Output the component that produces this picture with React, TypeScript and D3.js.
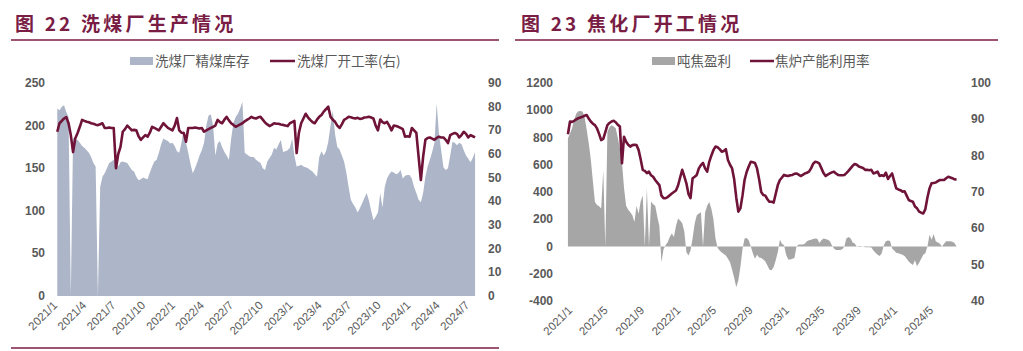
import React from "react";
import * as d3 from "d3";

// ---------- Data: 图22 洗煤厂生产情况 (weekly, from 2021-01-08) ----------
const washStockStart = "2021-01-08";
const washStock = [
  220, 218, 222, 224, 216, 210, 0, 186, 183, 183, 180, 176, 174, 171, 168, 163, 156, 152, 0, 128,
  140, 144, 150, 156, 158, 160, 156, 152, 157, 158, 157, 156, 152, 148, 146, 140, 136, 137, 139, 138,
  137, 145, 152, 158, 160, 168, 178, 185, 183, 182, 179, 180, 176, 170, 168, 180, 195, 180, 168, 155,
  144, 150, 157, 165, 171, 180, 200, 212, 213, 200, 165, 179, 182, 175, 169, 165, 160, 185, 203, 210,
  214, 220, 228, 168, 166, 164, 163, 163, 160, 158, 156, 150, 148, 158, 162, 166, 174, 172, 178, 183,
  169, 170, 171, 174, 185, 165, 152, 153, 154, 152, 151, 150, 148, 146, 143, 140, 163, 170, 165, 170,
  181, 200, 218, 190, 175, 172, 165, 158, 145, 128, 113, 108, 104, 98, 103, 109, 115, 121, 112, 100,
  89, 93, 98, 121, 104, 128, 138, 143, 146, 145, 143, 144, 148, 138, 141, 142, 142, 138, 128, 121,
  113, 110, 121, 140, 152, 160, 169, 180, 226, 191, 171, 151, 148, 150, 165, 181, 180, 177, 180, 178,
  171, 165, 161, 157, 162, 169,
];
const washRate = [
  69.4, 73.0, 74.0, 75.0, 75.6, 73.0, 68.0, 60.8, 66.7, 68.9, 71.5, 74.4, 74.0, 73.6, 73.4, 73.0, 72.8, 72.4, 72.2, 72.6,
  73.0, 71.0, 71.0, 71.2, 71.0, 71.0, 54.0, 60.0, 63.0, 69.4, 70.5, 72.0, 71.0, 70.0, 70.2, 70.0, 67.5, 66.0, 67.0, 68.0,
  67.3, 69.0, 71.5, 71.0, 70.5, 70.0, 71.5, 73.0, 72.0, 71.0, 70.5, 70.0, 72.0, 75.2, 70.0, 69.0, 68.9, 65.2, 71.0, 71.0,
  71.0, 71.2, 71.0, 70.8, 71.0, 69.4, 70.0, 70.5, 71.0, 71.5, 72.0, 74.4, 73.5, 73.0, 74.5, 75.7, 74.2, 73.0, 72.3, 71.5,
  72.0, 72.5, 73.0, 73.8, 74.4, 75.0, 75.7, 75.2, 75.0, 75.5, 75.7, 74.5, 73.3, 72.5, 71.8, 72.3, 73.0, 72.8, 72.8, 72.5,
  72.3, 72.0, 71.8, 73.0, 73.5, 74.0, 60.4, 69.0, 73.0, 75.0, 77.0, 75.5, 74.4, 73.5, 73.0, 74.5, 75.7, 76.5, 77.9, 79.0,
  80.0, 75.7, 74.5, 73.6, 72.0, 71.0, 72.5, 74.4, 75.0, 75.7, 75.5, 75.2, 75.0, 75.3, 74.8, 75.0, 75.4, 75.5, 75.7, 75.4,
  75.0, 72.0, 70.0, 74.6, 73.5, 73.0, 73.6, 72.0, 70.0, 72.0, 71.8, 71.5, 71.0, 70.5, 67.3, 67.5, 67.3, 71.0, 70.0, 68.9,
  58.8, 49.0, 58.8, 66.0, 66.8, 67.0, 66.5, 66.0, 66.8, 67.3, 67.0, 67.0, 66.0, 64.6, 68.0, 68.5, 68.9, 68.5, 67.0, 68.0,
  69.4, 68.5, 67.0, 68.0, 67.5, 67.0,
];
const washLeftTicks = [0, 50, 100, 150, 200, 250];
const washRightTicks = [0, 10, 20, 30, 40, 50, 60, 70, 80, 90];
const washXTicks = ["2021-01", "2021-04", "2021-07", "2021-10", "2022-01", "2022-04", "2022-07", "2022-10", "2023-01", "2023-04", "2023-07", "2023-10", "2024-01", "2024-04", "2024-07"];

// ---------- Data: 图23 焦化厂开工情况 (weekly, from 2020-12-25) ----------
const cokeStart = "2020-12-25";
const cokeProfit = [
  794, 830, 868, 930, 975, 993, 995, 990, 950, 860, 760, 640, 480, 326, 305, 295, 279, 560, 0, 840,
  875, 890, 880, 868, 800, 720, 620, 430, 300, 270, 252, 230, 180, 300, 240, 330, 375, 0, 430, 0,
  330, 310, 300, 220, 150, -115, -20, 10, 32, 70, 96, 70, 150, 206, 190, 170, 110, -40, -66, -30,
  60, 169, 230, 243, 252, 0, 250, 300, 326, 279, 200, 60, -10, -29, -44, -55, -66, -90, -115, -170,
  -230, -299, -250, -150, -20, 59, 62, 45, 0, -50, -90, -60, -80, -85, -95, -110, -140, -170, -175, -150,
  -100, -40, 49, 20, 10, -60, -95, -95, -90, -85, 0, 15, 15, 15, 20, 39, 45, 49, 55, 59,
  57, 25, 45, 59, 55, 50, 40, 10, -15, -25, -25, -25, -20, 0, 59, 69, 60, 30, 22, 0,
  3, 3, 0, -5, -5, -5, -8, -30, -45, -60, -70, -50, 10, 39, 44, 40, -15, -30, -45, -50,
  -55, -60, -70, -90, -110, -125, -135, -100, -145, -120, -90, -60, -50, 0, 86, 50, 91, 39, 30, 20,
  0, 20, 39, 39, 39, 35, 25, 0,
];
const cokeUtil = [
  85.9, 89.4, 89.3, 89.6, 90.0, 90.3, 90.5, 90.7, 91.0, 91.2, 90.2, 89.4, 88.8, 88.4, 87.5, 86.0, 84.3, 84.6, 86.5, 88.4,
  89.0, 89.4, 89.6, 89.2, 88.5, 88.0, 77.9, 85.2, 83.8, 83.0, 82.5, 82.9, 83.0, 82.9, 81.6, 79.0, 76.1, 75.8, 75.2, 75.6,
  74.6, 74.2, 73.3, 72.6, 71.9, 69.0, 68.3, 68.3, 68.6, 69.1, 69.6, 70.0, 70.4, 71.8, 74.0, 76.1, 74.3, 72.4, 69.5, 68.3,
  73.8, 74.2, 74.7, 76.5, 77.4, 78.0, 76.5, 75.6, 78.3, 80.0, 81.5, 82.5, 82.3, 81.8, 81.1, 81.3, 81.8, 78.8, 77.5, 76.5,
  73.5, 68.5, 64.6, 65.5, 69.0, 73.3, 75.5, 77.0, 78.3, 78.2, 78.0, 76.5, 73.5, 70.0, 69.2, 69.0, 68.0, 67.3, 67.3, 67.1,
  69.5, 71.9, 73.3, 74.0, 74.7, 74.5, 74.4, 74.6, 74.7, 75.0, 75.1, 74.8, 74.4, 74.7, 75.1, 75.3, 75.6, 76.5, 77.8, 78.3,
  78.2, 77.8, 76.5, 75.2, 74.4, 74.8, 75.1, 75.4, 75.6, 75.1, 74.7, 74.6, 74.6, 74.7, 75.2, 75.8, 76.5, 77.2, 77.7, 77.5,
  77.0, 76.8, 76.6, 76.1, 76.1, 76.0, 76.1, 75.1, 75.3, 75.6, 74.4, 74.6, 74.4, 75.3, 73.6, 74.4, 75.1, 73.0, 71.0, 70.7,
  70.5, 70.1, 70.2, 69.0, 67.8, 67.5, 67.3, 66.0, 65.5, 64.6, 64.3, 64.1, 65.3, 68.5, 71.0, 72.4, 72.5, 72.6, 73.0, 73.3,
  73.3, 73.3, 73.8, 74.2, 74.0, 73.8, 73.5, 73.4,
];
const cokeLeftTicks = [-400, -200, 0, 200, 400, 600, 800, 1000, 1200];
const cokeRightTicks = [40, 50, 60, 70, 80, 90, 100];
const cokeXTicks = ["2021-01", "2021-05", "2021-09", "2022-01", "2022-05", "2022-09", "2023-01", "2023-05", "2023-09", "2024-01", "2024-05"];

// ---------- helpers ----------
const DAY = 864e5;
const parseD = (s: string) => {
  const [y, m, d] = s.split("-").map(Number);
  return new Date(y, m - 1, d || 1);
};
const weekly = (start: string, vals: number[]) => {
  const t0 = parseD(start).getTime();
  return vals.map((v, i) => ({ d: new Date(t0 + i * 7 * DAY), v }));
};
const fmtTick = (s: string) => {
  const d = parseD(s);
  return `${d.getFullYear()}/${d.getMonth() + 1}`;
};

const TITLE_COLOR = "#7a1d45";
const LINE_COLOR = "#6f1438";
const AXIS_TEXT = "#595959";
const CJK = "'Noto Sans CJK SC', 'Liberation Sans', sans-serif";
const NUM = "'Liberation Sans', Arial, sans-serif";

function Chart22() {
  const x = d3.scaleTime().domain([parseD("2021-01-01"), parseD("2024-07-01")]).range([55, 467]);
  const yL = d3.scaleLinear().domain([0, 250]).range([296, 83]);
  const yR = d3.scaleLinear().domain([0, 90]).range([296, 83]);
  const stock = weekly(washStockStart, washStock);
  const rate = weekly(washStockStart, washRate);
  const area = d3.area<{ d: Date; v: number }>().x((p) => x(p.d)).y0(yL(0)).y1((p) => yL(p.v));
  const line = d3.line<{ d: Date; v: number }>().x((p) => x(p.d)).y((p) => yR(p.v));
  return (
    <g>
      <text x={15} y={31} fill={TITLE_COLOR} fontFamily={CJK} fontWeight={700} fontSize={19} letterSpacing={3.2}>
        图 22 洗煤厂生产情况
      </text>
      <line x1={11} x2={499} y1={40} y2={40} stroke={TITLE_COLOR} strokeWidth={1.3} />
      <line x1={11} x2={499} y1={348} y2={348} stroke={TITLE_COLOR} strokeWidth={1.3} />
      {/* legend */}
      <rect x={130} y={57} width={23} height={8} fill="#adb6c8" />
      <text x={155} y={66} fill={AXIS_TEXT} fontFamily={CJK} fontSize={13.5}>洗煤厂精煤库存</text>
      <line x1={270} x2={295} y1={61} y2={61} stroke={LINE_COLOR} strokeWidth={2.5} />
      <text x={297} y={66} fill={AXIS_TEXT} fontFamily={CJK} fontSize={13.5}>洗煤厂开工率(右)</text>
      <path d={area(stock) || ""} fill="#adb6c8" />
      <path d={line(rate) || ""} fill="none" stroke={LINE_COLOR} strokeWidth={2.6} strokeLinejoin="round" />
      {washLeftTicks.map((t) => (
        <text key={"l" + t} x={45} y={yL(t) + 4} textAnchor="end" fill={AXIS_TEXT} fontFamily={NUM} fontWeight={700} fontSize={12}>{t}</text>
      ))}
      {washRightTicks.map((t) => (
        <text key={"r" + t} x={488} y={yR(t) + 4} textAnchor="start" fill={AXIS_TEXT} fontFamily={NUM} fontWeight={700} fontSize={12}>{t}</text>
      ))}
      {washXTicks.map((t) => (
        <text key={"x" + t} transform={`translate(${x(parseD(t)) + 3},${306}) rotate(-45)`} textAnchor="end" fill={AXIS_TEXT} fontFamily={NUM} fontSize={11.5}>{fmtTick(t)}</text>
      ))}
    </g>
  );
}

function Chart23() {
  const x = d3.scaleTime().domain([parseD("2021-01-01"), parseD("2024-05-01")]).range([570, 931]);
  const yL = d3.scaleLinear().domain([-400, 1200]).range([301, 83]);
  const yR = d3.scaleLinear().domain([40, 100]).range([301, 83]);
  const profit = weekly(cokeStart, cokeProfit);
  const util = weekly(cokeStart, cokeUtil);
  const area = d3.area<{ d: Date; v: number }>().x((p) => x(p.d)).y0(yL(0)).y1((p) => yL(p.v));
  const line = d3.line<{ d: Date; v: number }>().x((p) => x(p.d)).y((p) => yR(p.v));
  return (
    <g>
      <text x={521} y={31} fill={TITLE_COLOR} fontFamily={CJK} fontWeight={700} fontSize={19} letterSpacing={3.2}>
        图 23 焦化厂开工情况
      </text>
      <line x1={515} x2={998} y1={40} y2={40} stroke={TITLE_COLOR} strokeWidth={1.3} />
      {/* legend */}
      <rect x={652} y={57} width={23} height={8} fill="#a6a6a6" />
      <text x={677} y={66} fill={AXIS_TEXT} fontFamily={CJK} fontSize={13.5}>吨焦盈利</text>
      <line x1={750} x2={774} y1={61} y2={61} stroke={LINE_COLOR} strokeWidth={2.5} />
      <text x={775} y={66} fill={AXIS_TEXT} fontFamily={CJK} fontSize={13.5}>焦炉产能利用率</text>
      <path d={area(profit) || ""} fill="#a6a6a6" />
      <path d={line(util) || ""} fill="none" stroke={LINE_COLOR} strokeWidth={2.6} strokeLinejoin="round" />
      {cokeLeftTicks.map((t) => (
        <text key={"l" + t} x={553} y={yL(t) + 4} textAnchor="end" fill={AXIS_TEXT} fontFamily={NUM} fontWeight={700} fontSize={12}>{t}</text>
      ))}
      {cokeRightTicks.map((t) => (
        <text key={"r" + t} x={971} y={yR(t) + 4} textAnchor="start" fill={AXIS_TEXT} fontFamily={NUM} fontWeight={700} fontSize={12}>{t}</text>
      ))}
      {cokeXTicks.map((t) => (
        <text key={"x" + t} transform={`translate(${x(parseD(t)) + 3},${311}) rotate(-45)`} textAnchor="end" fill={AXIS_TEXT} fontFamily={NUM} fontSize={11.5}>{fmtTick(t)}</text>
      ))}
    </g>
  );
}

export default function App() {
  return (
    <svg width={1023} height={351} style={{ position: "absolute", left: 0, top: 0, background: "#fff" }}>
      <rect width={1023} height={351} fill="#fff" />
      <Chart22 />
      <Chart23 />
    </svg>
  );
}
